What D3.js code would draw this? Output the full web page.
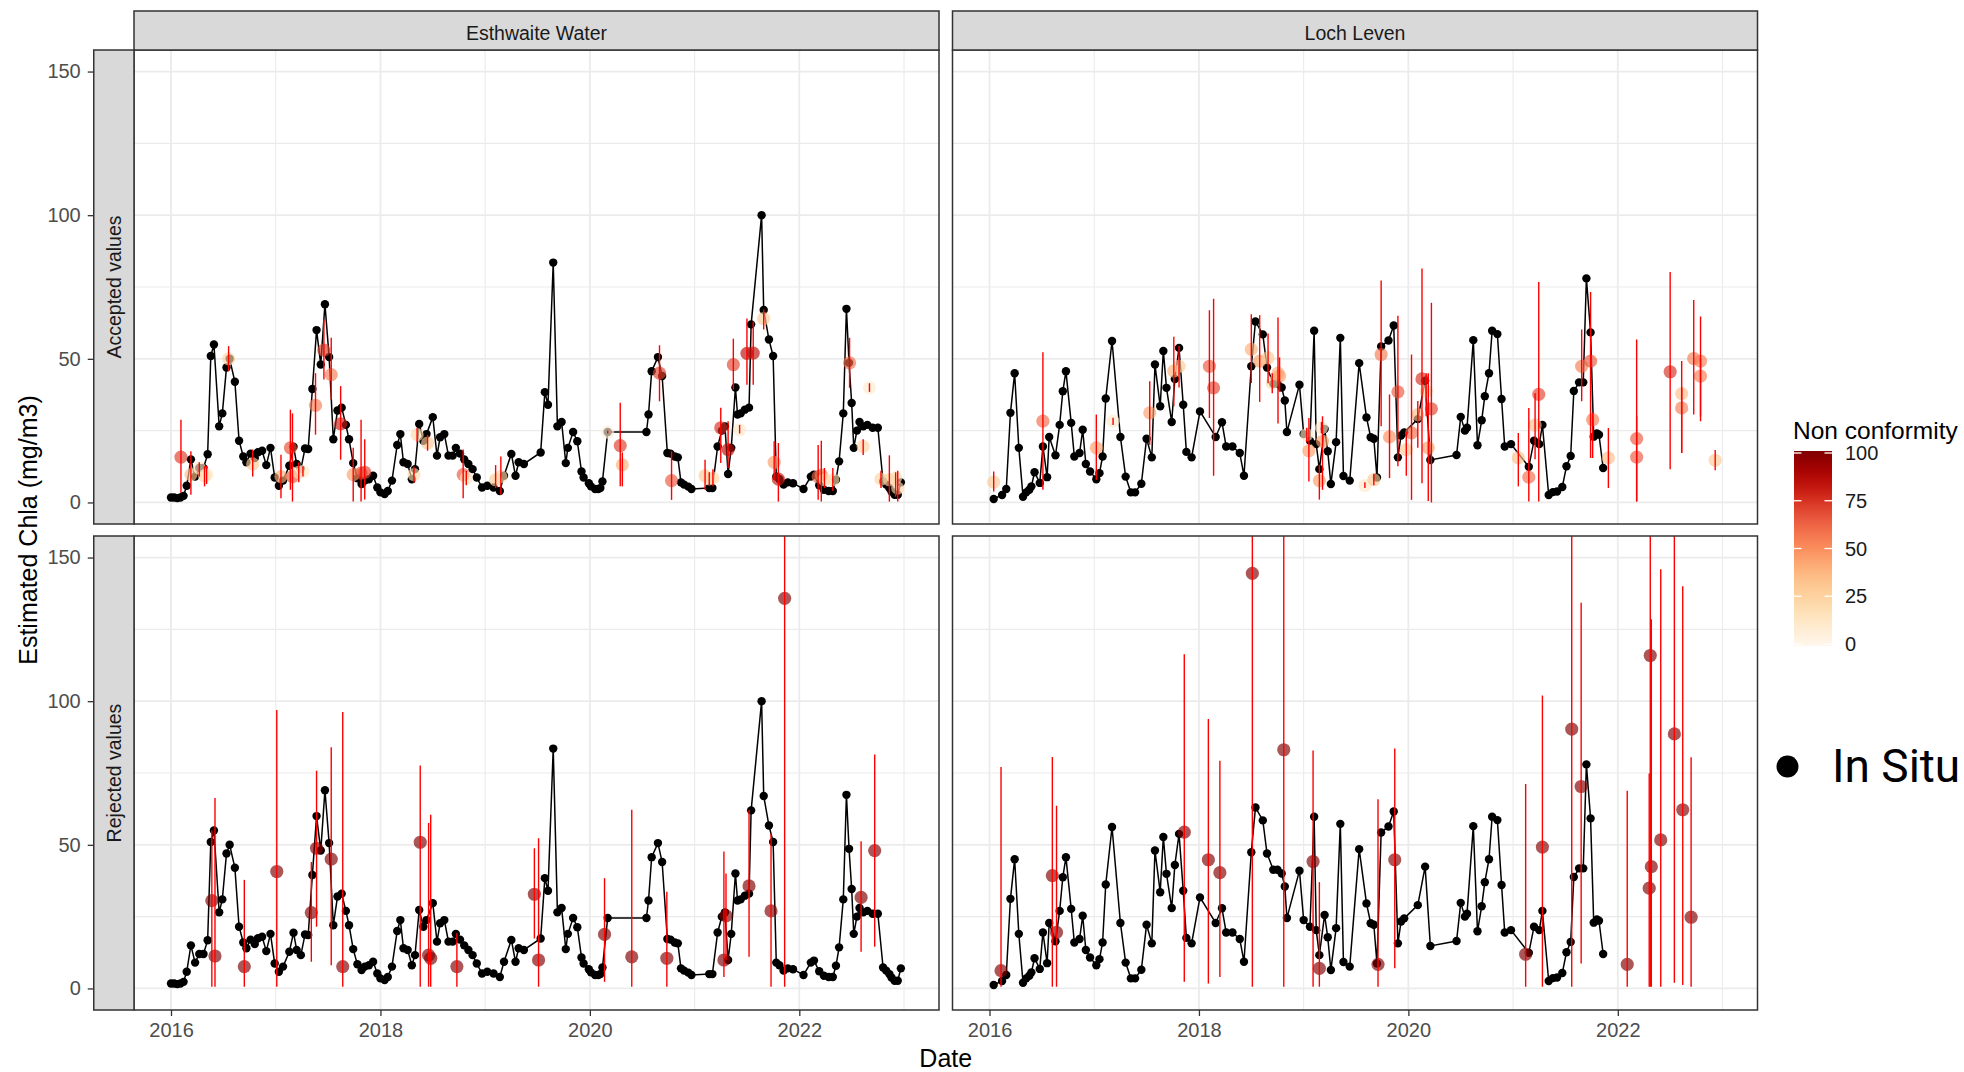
<!DOCTYPE html>
<html>
<head>
<meta charset="utf-8">
<script src="https://cdn.jsdelivr.net/npm/d3@7"></script>
<style>
  html, body { margin: 0; padding: 0; background: #fff; }
  svg { display: block; }
</style>
</head>
<body>
<svg id="chart" width="1964" height="1072"></svg>
<script>
// ---------------- DATA ----------------
const lakes = ["Esthwaite Water", "Loch Leven"];
const rowLabels = ["Accepted values", "Rejected values"];
const yTicks = [0, 50, 100, 150];
const yMinor = [25, 75, 125];
const xTicks = [2016, 2018, 2020, 2022];
const xMinor = [2017, 2019, 2021, 2023];
const legendTicks = [0, 25, 50, 75, 100];

// in situ [decimal year, Chla]
const esthInSitu = [
[2016.00,1.7],[2016.03,1.7],[2016.06,1.5],[2016.09,1.7],[2016.12,2.3],[2016.15,5.8],[2016.19,15],[2016.23,9],
[2016.27,12],[2016.31,12],[2016.35,16.8],[2016.38,51],[2016.41,55],[2016.46,26.5],[2016.49,31],[2016.53,47],
[2016.56,50],[2016.61,42],[2016.65,21.5],[2016.69,16],[2016.72,14],[2016.76,17],[2016.80,15.5],[2016.83,17.5],
[2016.87,18],[2016.91,13],[2016.95,19],[2016.99,8.7],[2017.03,5.8],[2017.07,7.6],[2017.13,12.8],[2017.17,19.4],
[2017.20,13.4],[2017.24,11.6],[2017.28,18.8],[2017.31,18.6],[2017.35,39.5],[2017.39,60],[2017.43,48],[2017.47,69],
[2017.51,50.6],[2017.55,22],[2017.59,32],[2017.63,33],[2017.67,27],[2017.70,22],[2017.74,13.7],[2017.78,8.4],
[2017.82,6.4],[2017.85,7.6],[2017.89,8.1],[2017.93,9.3],[2017.97,5.2],[2018.00,3.5],[2018.04,2.9],[2018.07,4],
[2018.11,7.6],[2018.16,20],[2018.19,23.8],[2018.22,14],[2018.26,13.4],[2018.30,8.1],[2018.33,11.6],[2018.37,27.3],
[2018.41,21.5],[2018.44,23.8],[2018.50,29.7],[2018.54,16.3],[2018.57,22.7],[2018.61,23.8],[2018.65,16.3],[2018.69,16.3],
[2018.72,19],[2018.76,17],[2018.80,15],[2018.84,13.4],[2018.88,11.6],[2018.92,8.7],[2018.97,5.2],[2019.02,5.8],
[2019.08,5.2],[2019.14,4],[2019.18,9.3],[2019.25,16.9],[2019.29,9.3],[2019.32,14],[2019.37,13.4],[2019.53,17.4],
[2019.57,38.4],[2019.60,34],[2019.65,83.5],[2019.69,26.5],[2019.73,28],[2019.77,13.7],[2019.79,19],[2019.84,24.5],
[2019.88,21.3],[2019.92,10.8],[2019.94,8.7],[2019.99,6.7],[2020.01,5.6],[2020.05,4.7],[2020.08,4.7],[2020.10,5],
[2020.12,7.3],[2020.17,24.5],[2020.54,24.5],[2020.56,30.6],[2020.59,45.7],[2020.65,50.6],[2020.69,44],[2020.74,17.2],
[2020.77,17],[2020.81,16],[2020.84,15.7],[2020.87,7],[2020.90,6.2],[2020.94,5.5],[2020.97,4.7],[2021.14,5],
[2021.17,5],[2021.22,19.5],[2021.26,25],[2021.29,26.5],[2021.32,9.9],[2021.35,19],[2021.39,40],[2021.41,30.6],
[2021.44,31],[2021.48,32.3],[2021.52,33],[2021.54,62],[2021.64,100],[2021.66,67],[2021.71,56.7],[2021.75,51],
[2021.78,9],[2021.81,8.1],[2021.85,6.2],[2021.89,7],[2021.94,6.7],[2022.04,4.7],[2022.11,9],[2022.14,9.7],
[2022.19,6],[2022.235,4.4],[2022.28,4],[2022.32,4],[2022.35,7.9],[2022.38,14.3],[2022.42,31],[2022.45,67.4],
[2022.475,48.6],[2022.50,34.6],[2022.52,19],[2022.55,25],[2022.575,28],[2022.61,26.5],[2022.65,27],[2022.70,26],
[2022.75,26],[2022.80,7.3],[2022.83,6.2],[2022.86,5],[2022.88,3.8],[2022.91,2.7],[2022.94,2.7],[2022.97,7]
];

const lochInSitu = [
[2016.04,1.2],[2016.12,2.6],[2016.16,4.7],[2016.20,31.2],[2016.24,45],[2016.28,19],[2016.32,2],[2016.35,3.5],
[2016.38,4.4],[2016.40,5.6],[2016.43,10.5],[2016.48,6.8],[2016.51,19.5],[2016.55,8.8],[2016.57,22.8],[2016.63,16.4],
[2016.67,27],[2016.70,38.7],[2016.73,45.7],[2016.78,27.7],[2016.81,16],[2016.86,17.2],[2016.89,25.3],[2016.92,13.4],
[2016.96,10.8],[2017.02,8.1],[2017.05,10.2],[2017.08,16],[2017.11,36.2],[2017.17,56.2],[2017.25,22.8],[2017.30,9],
[2017.35,3.5],[2017.39,3.5],[2017.45,6.5],[2017.50,22.2],[2017.55,15.7],[2017.58,48],[2017.63,33.5],[2017.66,52.7],
[2017.69,39.9],[2017.74,28],[2017.77,43],[2017.81,53.8],[2017.85,34],[2017.88,17.6],[2017.93,15.7],[2018.01,31.7],
[2018.16,22.8],[2018.22,27.9],[2018.26,19.5],[2018.32,19.5],[2018.39,17.2],[2018.43,9.3],[2018.50,47.4],[2018.54,63],
[2018.61,58.5],[2018.65,47],[2018.71,41.3],[2018.75,41.3],[2018.79,40],[2018.82,35.5],[2018.84,24.5],[2018.96,41],
[2019.00,23.8],[2019.06,21.5],[2019.10,59.8],[2019.12,20.3],[2019.15,11.6],[2019.20,25.6],[2019.23,17.8],[2019.26,6.4],
[2019.31,21],[2019.35,57.3],[2019.38,9.2],[2019.44,7.6],[2019.53,48.5],[2019.60,29.6],[2019.64,22.7],[2019.67,22.2],
[2019.70,8.7],[2019.74,54.3],[2019.81,56.4],[2019.86,61.6],[2019.90,15.7],[2019.93,23.3],[2019.96,24.4],[2020.09,29],
[2020.16,42.4],[2020.21,14.8],[2020.46,16.5],[2020.50,29.8],[2020.54,25],[2020.56,26],[2020.62,56.5],[2020.66,19.9],
[2020.70,28.6],[2020.73,37],[2020.77,45],[2020.80,59.8],[2020.85,58.6],[2020.89,36],[2020.92,19.5],[2020.98,20.3],
[2021.15,12.4],[2021.20,21.5],[2021.25,20.3],[2021.28,27],[2021.34,2.6],[2021.38,3.6],[2021.42,3.8],[2021.47,5.4],
[2021.51,12.6],[2021.55,16.2],[2021.58,38.8],[2021.63,41.8],[2021.67,41.8],[2021.70,78],[2021.74,59.2],[2021.77,22.9],
[2021.80,24],[2021.82,23.6],[2021.86,12]
];

// satellite accepted [decimal year, Chla, low, high, non conformity]
const esthAccepted = [
[2016.095,15.8,3.3,28.8,72],[2016.19,9.7,2.7,17.8,35],[2016.27,12,9,14,12],[2016.32,9.3,5.6,12.6,25],
[2016.34,9.7,6.4,12.8,15],[2016.55,50,45.7,54.4,25],[2016.78,13.4,9,18.4,30],[2017.05,9,1.5,16.6,40],
[2017.14,19,4.4,32.3,68],[2017.16,9,0.3,31,65],[2017.22,10.5,7,14,20],[2017.26,10.8,9,12.5,12],
[2017.38,33.8,23.6,45,55],[2017.46,53,42.8,63.7,72],[2017.53,44.5,35.8,57.3,55],[2017.62,27.4,14.9,40.5,80],
[2017.74,9.7,0.3,19,45],[2017.815,10.2,0.3,28.8,68],[2017.85,10.5,1,22,70],[2018.32,9.7,6.8,12.5,20],
[2018.35,23.6,21,26,22],[2018.45,20.7,18,23.5,30],[2018.79,9.7,1.5,18.4,65],[2018.82,8.5,6,11,18],
[2019.10,7.9,5,13,30],[2019.15,9,2.7,16,22],[2020.17,24.5,24,25,8],[2020.29,19.8,5.6,34.7,72],
[2020.31,13.1,5.6,17.4,40],[2020.665,45,35.2,54.7,70],[2020.78,7.6,0.9,17.8,65],[2021.10,9.3,4.4,14.9,30],
[2021.14,8.2,6,10.5,20],[2021.175,8.5,5.6,11.6,22],[2021.25,26,13.7,33,75],[2021.32,18.4,12,28.3,85],
[2021.37,48,39.3,57,70],[2021.43,25.3,24,27,12],[2021.50,51.9,41,64,85],[2021.56,52,41,63,85],
[2021.66,64,60.2,67.2,30],[2021.76,14,7.9,21.3,45],[2021.80,8.1,0.3,20.7,82],[2022.18,9,0.9,20,62],
[2022.21,9.5,0.3,21.5,55],[2022.24,7.9,5,12,20],[2022.32,7.9,4,12,20],[2022.48,48.6,39.9,57.3,60],
[2022.61,19.5,16.5,22,25],[2022.67,39.9,38.5,41.5,10],[2022.78,8.1,5,11,25],[2022.86,7.9,0.3,16.4,25],
[2022.92,8.6,2,10.5,20],[2022.94,5,0.3,11,22]
];

const lochAccepted = [
[2016.04,7.1,3.8,10.8,30],[2016.51,28.3,4.4,52.3,60],[2017.02,19,7.9,30.6,45],[2017.18,28.3,27,29.5,10],
[2017.53,31.2,20.1,42.2,45],[2017.76,45.7,33.5,57.7,40],[2017.81,47.4,40,54.5,30],[2018.10,47.4,29.4,66.9,65],
[2018.14,39.9,9.3,70.9,70],[2018.50,53.3,41.6,65.5,40],[2018.58,49.2,35,65.2,45],[2018.66,50.3,41.5,58.8,30],
[2018.70,41.6,38,45,20],[2018.755,45,27.5,64.4,40],[2018.77,44,38.5,50.5,45],[2019.03,23.6,21,26,15],
[2019.05,18,7.3,29.4,45],[2019.15,7.6,1,13,45],[2019.17,26,24,28,10],[2019.18,21.3,4.4,30,45],
[2019.585,5.9,5,7,12],[2019.67,7.9,6,10,30],[2019.74,51.5,26.5,77.3,55],[2019.82,22.8,8.5,37.6,50],
[2019.90,38.5,12.6,65,65],[2019.98,18.4,9.3,24.5,30],[2020.03,24.2,0.9,51.5,60],[2020.09,30.6,19,35.3,35],
[2020.13,43,6.7,81.4,75],[2020.17,38.7,30,45,25],[2020.19,19,0.5,45,45],[2020.22,32.6,0,69.5,70],
[2021.05,15.5,5.6,24.2,35],[2021.15,8.8,0.3,32.9,60],[2021.21,26.9,15,38,35],[2021.245,37.6,0.3,76.7,70],
[2021.655,47.4,35.2,60.2,55],[2021.74,49.2,15.5,73.3,65],[2021.76,28.8,15.5,31.2,55],[2021.91,15.5,5,25.9,35],
[2022.18,22.2,0.3,56.7,65],[2022.18,15.8,0.3,30,65],[2022.50,45.5,11.6,80.2,75],[2022.61,37.9,17.2,49.2,35],
[2022.61,32.9,17.2,40,55],[2022.725,50.1,30.6,70.5,55],[2022.79,49.2,28.3,64.7,55],[2022.79,44,30,50,55],
[2022.93,14.7,11.2,18.3,30]
];

// satellite rejected [decimal year, Chla, low, high, non conformity]
const esthRejected = [
[2016.39,30.6,0.6,55,100],[2016.42,11.3,0.6,66.3,100],[2016.70,7.6,0.6,37.8,100],[2017.01,40.7,0.6,96.9,100],
[2017.34,26.4,9.3,44,100],[2017.39,48.8,21.5,75.8,100],[2017.53,45,8.1,84,100],[2017.64,7.6,0.6,96.2,100],
[2018.38,50.9,0.6,77.6,100],[2018.46,11.6,0.6,57.6,100],[2018.48,10.5,0.6,60.5,100],[2018.73,7.6,0.6,19.2,100],
[2019.47,32.8,17.4,48.8,100],[2019.51,9.9,0.6,52.3,100],[2020.14,18.8,2.3,38.4,100],[2020.40,11,0.6,62.2,100],
[2020.735,10.5,0.6,33.7,100],[2021.28,9.9,4,47.7,100],[2021.30,25.3,10,40,100],[2021.52,35.7,11,62.2,100],
[2021.73,27,0.6,54,100],[2021.86,135.8,0.6,200,100],[2022.59,31.7,12.8,51.2,100],[2022.72,48,14.5,81.4,100]
];

const lochRejected = [
[2016.11,6.2,0.6,77.1,100],[2016.60,39.3,0.6,80.6,100],[2016.64,19.5,0.6,63.6,100],[2017.86,54.4,2.3,116.3,100],
[2018.09,44.8,1.7,93.8,100],[2018.20,40.3,4,79.3,100],[2018.51,144.5,0.6,200,100],[2018.81,83.1,0.6,200,100],
[2019.09,44.2,0.6,82.8,100],[2019.15,7,0.6,37,100],[2019.71,8.4,0.6,65.9,100],[2019.87,44.8,7,83.5,100],
[2021.12,11.9,0.6,71.2,100],[2021.28,49.2,0.6,102,100],[2021.56,90.3,0.6,200,100],[2021.65,70.3,8.7,134.3,100],
[2022.09,8.4,0.6,68.8,100],[2022.30,34.9,0.6,74.8,100],[2022.31,115.9,0.6,200,100],[2022.32,42.4,0.6,128.5,100],
[2022.41,51.7,0.6,145.9,100],[2022.54,88.6,2,200,100],[2022.62,62.2,1.2,140,100],[2022.70,24.8,0.6,80.5,100]
];

// ---------------- LAYOUT ----------------
const svg = d3.select("#chart");
const font = "'Liberation Sans', Arial, sans-serif";
const PW = 805, PH = 474;
const colX = [134, 952.5];
const rowY = [50, 536];
const stripTop = 11, stripH = 39;
const rowStripX = 93.75, rowStripW = 40.25;
const frame = "#333333";

const x = d3.scaleLinear().domain([2015.6466, 2023.334]).range([0, PW]);
const y = d3.scaleLinear().domain([-7.5, 157.5]).range([PH, 0]);
const color = d3.scaleSequential(d3.interpolateOrRd).domain([0, 100]);

const panels = [
  {c:0, r:0, insitu:esthInSitu, sat:esthAccepted},
  {c:1, r:0, insitu:lochInSitu, sat:lochAccepted},
  {c:0, r:1, insitu:esthInSitu, sat:esthRejected},
  {c:1, r:1, insitu:lochInSitu, sat:lochRejected}
];

const defs = svg.append("defs");

panels.forEach((p, i) => {
  const g = svg.append("g").attr("transform", `translate(${colX[p.c]},${rowY[p.r]})`);
  defs.append("clipPath").attr("id", "clip" + i)
    .append("rect").attr("width", PW).attr("height", PH);
  g.append("rect").attr("width", PW).attr("height", PH).attr("fill", "#fff");
  const grid = g.append("g");
  grid.selectAll(".hmin").data(yMinor).join("line")
    .attr("x1", 0).attr("x2", PW).attr("y1", d => y(d)).attr("y2", d => y(d))
    .attr("stroke", "#EBEBEB").attr("stroke-width", 1.1);
  grid.selectAll(".vmin").data(xMinor).join("line")
    .attr("y1", 0).attr("y2", PH).attr("x1", d => x(d)).attr("x2", d => x(d))
    .attr("stroke", "#EBEBEB").attr("stroke-width", 1.1);
  grid.selectAll(".hmaj").data(yTicks).join("line")
    .attr("x1", 0).attr("x2", PW).attr("y1", d => y(d)).attr("y2", d => y(d))
    .attr("stroke", "#EBEBEB").attr("stroke-width", 1.8);
  grid.selectAll(".vmaj").data(xTicks).join("line")
    .attr("y1", 0).attr("y2", PH).attr("x1", d => x(d)).attr("x2", d => x(d))
    .attr("stroke", "#EBEBEB").attr("stroke-width", 1.8);

  const plot = g.append("g").attr("clip-path", `url(#clip${i})`);
  plot.append("path").datum(p.insitu)
    .attr("d", d3.line().x(d => x(d[0])).y(d => y(d[1])))
    .attr("fill", "none").attr("stroke", "#000").attr("stroke-width", 1.5);
  plot.selectAll(".ins").data(p.insitu).join("circle")
    .attr("cx", d => x(d[0])).attr("cy", d => y(d[1])).attr("r", 4.2).attr("fill", "#000");
  plot.selectAll(".sat").data(p.sat).join("circle")
    .attr("cx", d => x(d[0])).attr("cy", d => y(d[1])).attr("r", 6.6)
    .attr("fill", d => color(d[4])).attr("fill-opacity", 0.66);
  plot.selectAll(".err").data(p.sat).join("line")
    .attr("x1", d => x(d[0])).attr("x2", d => x(d[0]))
    .attr("y1", d => y(d[2])).attr("y2", d => y(d[3]))
    .attr("stroke", "#FF0000").attr("stroke-width", 1.4);

  g.append("rect").attr("width", PW).attr("height", PH)
    .attr("fill", "none").attr("stroke", frame).attr("stroke-width", 1.5);
});

lakes.forEach((name, c) => {
  svg.append("rect").attr("x", colX[c]).attr("y", stripTop).attr("width", PW).attr("height", stripH)
    .attr("fill", "#D9D9D9").attr("stroke", frame).attr("stroke-width", 1.5);
  svg.append("text").attr("x", colX[c] + PW / 2).attr("y", stripTop + stripH / 2 + 9)
    .attr("text-anchor", "middle").attr("font-family", font).attr("font-size", 19.5)
    .attr("fill", "#1A1A1A").text(name);
});

rowLabels.forEach((name, r) => {
  svg.append("rect").attr("x", rowStripX).attr("y", rowY[r]).attr("width", rowStripW).attr("height", PH)
    .attr("fill", "#D9D9D9").attr("stroke", frame).attr("stroke-width", 1.5);
  svg.append("text")
    .attr("transform", `translate(${rowStripX + rowStripW / 2 + 7},${rowY[r] + PH / 2}) rotate(-90)`)
    .attr("text-anchor", "middle").attr("font-family", font).attr("font-size", 19.5)
    .attr("fill", "#1A1A1A").text(name);
  const ax = svg.append("g").attr("transform", `translate(${rowStripX},${rowY[r]})`)
    .call(d3.axisLeft(y).tickValues(yTicks).tickSize(6).tickPadding(7));
  ax.select(".domain").remove();
  ax.selectAll(".tick line").attr("stroke", frame).attr("stroke-width", 1.3);
  ax.selectAll(".tick text").attr("font-family", font).attr("font-size", 20).attr("fill", "#4D4D4D");
});

colX.forEach(cx => {
  const ax = svg.append("g").attr("transform", `translate(${cx},${rowY[1] + PH})`)
    .call(d3.axisBottom(x).tickValues(xTicks).tickFormat(d3.format("d")).tickSize(6).tickPadding(7));
  ax.select(".domain").remove();
  ax.selectAll(".tick line").attr("stroke", frame).attr("stroke-width", 1.3);
  ax.selectAll(".tick text").attr("font-family", font).attr("font-size", 20).attr("fill", "#4D4D4D");
});

svg.append("text").attr("x", (colX[0] + colX[1] + PW) / 2).attr("y", 1067)
  .attr("text-anchor", "middle").attr("font-family", font).attr("font-size", 25).attr("fill", "#000").text("Date");
svg.append("text").attr("transform", `translate(37,${(rowY[0] + rowY[1] + PH) / 2}) rotate(-90)`)
  .attr("text-anchor", "middle").attr("font-family", font).attr("font-size", 25).attr("fill", "#000")
  .text("Estimated Chla (mg/m3)");

const lg = svg.append("g");
lg.append("text").attr("x", 1793).attr("y", 439).attr("font-family", font).attr("font-size", 24.5)
  .attr("fill", "#000").text("Non conformity");
const grad = defs.append("linearGradient").attr("id", "ncgrad")
  .attr("x1", 0).attr("y1", 1).attr("x2", 0).attr("y2", 0);
d3.range(0, 101, 5).forEach(v => grad.append("stop").attr("offset", v / 100 + "").attr("stop-color", color(v)));
const barTop = 451, barH = 195, barX = 1794, barW = 38;
const ly = d3.scaleLinear().domain([0, 100]).range([barTop + barH - 2, barTop + 2]);
lg.append("rect").attr("x", barX).attr("y", barTop).attr("width", barW).attr("height", barH).attr("fill", "url(#ncgrad)");
lg.selectAll(".lt1").data(legendTicks).join("line")
  .attr("x1", barX).attr("x2", barX + 7.5).attr("y1", d => ly(d)).attr("y2", d => ly(d))
  .attr("stroke", "#fff").attr("stroke-width", 1.3);
lg.selectAll(".lt2").data(legendTicks).join("line")
  .attr("x1", barX + barW - 7.5).attr("x2", barX + barW).attr("y1", d => ly(d)).attr("y2", d => ly(d))
  .attr("stroke", "#fff").attr("stroke-width", 1.3);
lg.selectAll(".ll").data(legendTicks).join("text")
  .attr("x", 1845).attr("y", d => ly(d) + 7).attr("font-family", font).attr("font-size", 20)
  .attr("fill", "#1A1A1A").text(d => d);

svg.append("circle").attr("cx", 1787.5).attr("cy", 766.5).attr("r", 11).attr("fill", "#000");
svg.append("text").attr("x", 1832).attr("y", 782).attr("font-family", "Roboto, sans-serif")
  .attr("font-size", 46).attr("fill", "#000").text("In Situ");
</script>
</body>
</html>
